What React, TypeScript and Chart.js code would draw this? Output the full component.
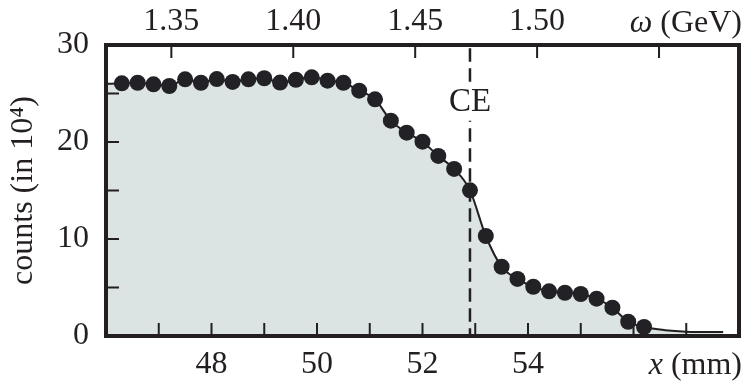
import React, { useEffect, useRef } from 'react';
import { Chart, registerables } from 'chart.js';

Chart.register(...registerables);

// ---- data ----
const positionsMm = [
  46.3, 46.6, 46.9, 47.2, 47.5, 47.8, 48.1, 48.4, 48.7, 49.0, 49.3, 49.6,
  49.9, 50.2, 50.5, 50.8, 51.1, 51.4, 51.7, 52.0, 52.3, 52.6, 52.9, 53.2,
  53.5, 53.8, 54.1, 54.4, 54.7, 55.0, 55.3, 55.6, 55.9, 56.2,
];
const counts = [
  26.05, 26.11, 25.95, 25.77, 26.46, 26.11, 26.49, 26.19, 26.46, 26.57, 26.13, 26.42,
  26.67, 26.32, 26.11, 25.29, 24.4, 22.2, 20.96, 20.03, 18.56, 17.22, 15.02, 10.31,
  7.14, 5.88, 5.08, 4.61, 4.46, 4.33, 3.85, 2.92, 1.47, 0.93,
];
// fitted curve: start at the left edge and tail after the last point
const fitStartMm = [46.0];
const fitStartCounts = [26.0];
const fitTailMm = [56.6, 57.0, 57.7];
const fitTailCounts = [0.6, 0.45, 0.4];

const xMinorTicks = [47, 48, 49, 50, 51, 52, 53, 54, 55, 56, 57];
const xTickLabels = [48, 50, 52, 54];
const yMinorTicks = [0, 5, 10, 15, 20, 25, 30];
const yTickLabels = [0, 10, 20, 30];
const omegaTicks = [1.35, 1.4, 1.45, 1.5, 1.55];
const omegaTickLabels = ['1.35', '1.40', '1.45', '1.50', ''];

const xRange = [46, 58];
const yRange = [0, 30];
const omegaRange = [1.3232, 1.5828];

const ceMm = 52.9;
const ceLabel = 'CE';
const ceLabelCounts = 24.05;

const yTitle = 'counts (in 10\u2074)';
const omegaName = '\u03c9';
const omegaUnit = ' (GeV)';
const xName = 'x';
const xUnit = ' (mm)';

// ---- styles ----
const INK = '#231f20';
const DOT = '#222226';
const FILL = '#dce4e3';
const FAMILY = '"Liberation Serif", "Times New Roman", serif';
const FS = 32;

const overlay = {
  id: 'overlay',
  afterDatasetDraw(chart: any, args: any) {
    if (args.index !== 0) return;
    const { ctx, chartArea: a, scales } = chart;
    ctx.save();
    // CE dashed line
    const xCE = scales.x.getPixelForValue(ceMm);
    ctx.strokeStyle = INK;
    ctx.lineWidth = 2.5;
    ctx.setLineDash([13.4, 6.6]);
    ctx.lineDashOffset = 16.7;
    ctx.beginPath();
    ctx.moveTo(xCE, a.top);
    ctx.lineTo(xCE, a.bottom);
    ctx.stroke();
    ctx.setLineDash([]);
    // CE label
    ctx.font = `33px ${FAMILY}`;
    const w = ctx.measureText(ceLabel).width;
    const yCE = scales.y.getPixelForValue(ceLabelCounts);
    ctx.fillStyle = '#ffffff';
    ctx.fillRect(xCE - w / 2 - 2, yCE - 20, w + 4, 38);
    ctx.fillStyle = INK;
    ctx.textAlign = 'center';
    ctx.textBaseline = 'middle';
    ctx.fillText(ceLabel, xCE, yCE);

    // inward ticks
    ctx.strokeStyle = INK;
    ctx.lineWidth = 2;
    const L = 13;
    ctx.beginPath();
    for (const v of xMinorTicks) {
      const px = scales.x.getPixelForValue(v);
      ctx.moveTo(px, a.bottom);
      ctx.lineTo(px, a.bottom - L);
    }
    for (const v of omegaTicks) {
      const px = scales.x2.getPixelForValue(v);
      ctx.moveTo(px, a.top);
      ctx.lineTo(px, a.top + L);
    }
    for (const v of yMinorTicks) {
      if (v === yRange[0] || v === yRange[1]) continue;
      const py = scales.y.getPixelForValue(v);
      ctx.moveTo(a.left, py);
      ctx.lineTo(a.left + L, py);
    }
    ctx.stroke();
    ctx.restore();
  },
  afterDraw(chart: any) {
    const { ctx, chartArea: a } = chart;
    ctx.save();
    ctx.strokeStyle = INK;
    ctx.lineWidth = 4;
    ctx.strokeRect(a.left, a.top, a.right - a.left, a.bottom - a.top);

    // axis names
    ctx.fillStyle = INK;
    ctx.textBaseline = 'alphabetic';
    ctx.textAlign = 'left';
    const drawName = (it: string, rest: string, right: number, base: number) => {
      ctx.font = `italic ${FS}px ${FAMILY}`;
      const w1 = ctx.measureText(it).width;
      ctx.font = `${FS}px ${FAMILY}`;
      const w2 = ctx.measureText(rest).width;
      const x0 = right - w1 - w2;
      ctx.font = `italic ${FS}px ${FAMILY}`;
      ctx.fillText(it, x0, base);
      ctx.font = `${FS}px ${FAMILY}`;
      ctx.fillText(rest, x0 + w1, base);
    };
    drawName(omegaName, omegaUnit, 742, 32);
    drawName(xName, xUnit, 742, 374);
    ctx.restore();
  },
};

export default function App() {
  const ref = useRef<HTMLCanvasElement>(null);
  useEffect(() => {
    document.body.style.margin = '0';
    const fitX = [...fitStartMm, ...positionsMm, ...fitTailMm];
    const fitY = [...fitStartCounts, ...counts, ...fitTailCounts];
    const font = { family: FAMILY, size: FS };
    const chart = new Chart(ref.current as HTMLCanvasElement, {
      type: 'line',
      data: {
        datasets: [
          {
            label: 'fit',
            data: fitX.map((x, i) => ({ x, y: fitY[i] })),
            borderColor: INK,
            borderWidth: 2,
            pointRadius: 0,
            fill: 'origin',
            backgroundColor: FILL,
            cubicInterpolationMode: 'monotone',
            order: 2,
            xAxisID: 'x',
            yAxisID: 'y',
          },
          {
            label: 'counts',
            data: positionsMm.map((x, i) => ({ x, y: counts[i] })),
            showLine: false,
            pointRadius: 8,
            pointBackgroundColor: DOT,
            pointBorderWidth: 0,
            order: 1,
            xAxisID: 'x',
            yAxisID: 'y',
          },
        ],
      } as any,
      options: {
        responsive: false,
        animation: false,
        devicePixelRatio: 1,
        events: [],
        layout: { padding: { left: 0, right: 6, top: 0, bottom: 0 } },
        plugins: { legend: { display: false }, tooltip: { enabled: false } },
        scales: {
          x: {
            type: 'linear',
            position: 'bottom',
            min: xRange[0],
            max: xRange[1],
            afterBuildTicks: (s: any) => {
              s.ticks = xMinorTicks.map((v) => ({ value: v }));
            },
            ticks: {
              autoSkip: false,
              maxRotation: 0,
              padding: 9,
              color: INK,
              font,
              callback: (v: any) => (xTickLabels.includes(Math.round(Number(v))) ? String(v) : ''),
            },
            grid: { display: false, drawTicks: false },
            border: { display: false },
            afterFit: (s: any) => {
              s.height = 48;
            },
          },
          x2: {
            type: 'linear',
            position: 'top',
            min: omegaRange[0],
            max: omegaRange[1],
            afterBuildTicks: (s: any) => {
              s.ticks = omegaTicks.map((v) => ({ value: v }));
            },
            ticks: {
              autoSkip: false,
              maxRotation: 0,
              padding: 4,
              color: INK,
              font,
              callback: (_v: any, i: number) => omegaTickLabels[i],
            },
            grid: { display: false, drawTicks: false },
            border: { display: false },
            afterFit: (s: any) => {
              s.height = 45;
            },
          },
          y: {
            type: 'linear',
            position: 'left',
            min: yRange[0],
            max: yRange[1],
            afterBuildTicks: (s: any) => {
              s.ticks = yMinorTicks.map((v) => ({ value: v }));
            },
            ticks: {
              autoSkip: false,
              padding: 17,
              color: INK,
              font,
              callback: (v: any) => (yTickLabels.includes(Math.round(Number(v))) ? String(v) : ''),
            },
            title: {
              display: true,
              text: yTitle,
              color: INK,
              font,
              padding: { top: 4, bottom: 0 },
            },
            grid: { display: false, drawTicks: false },
            border: { display: false },
            afterFit: (s: any) => {
              s.width = 106;
            },
          },
        },
      } as any,
      plugins: [overlay],
    });
    return () => chart.destroy();
  }, []);
  return (
    <canvas
      ref={ref}
      width={747}
      height={384}
      style={{ display: 'block', width: '747px', height: '384px' }}
    />
  );
}
